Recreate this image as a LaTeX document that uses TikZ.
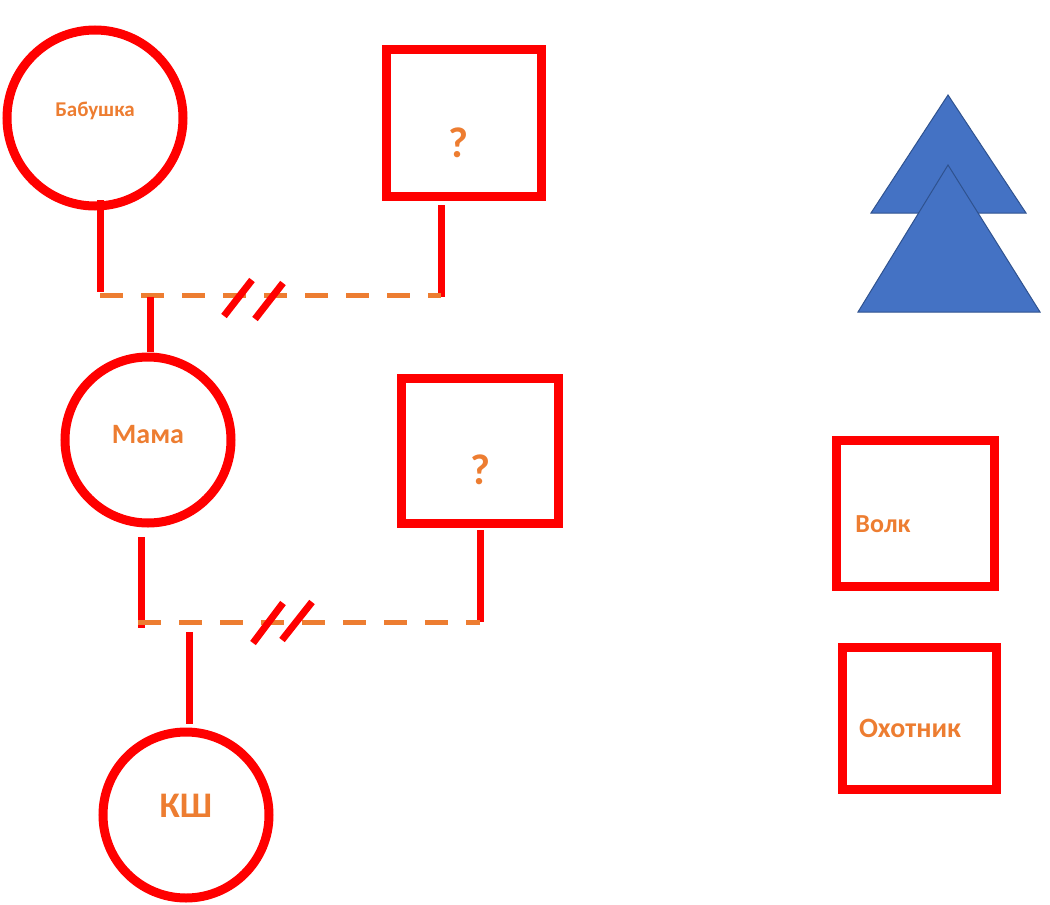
\documentclass[tikz,border=0pt]{standalone}
\usepackage{fontspec}
\setmainfont{Carlito}
\usetikzlibrary{positioning}
\definecolor{pedred}{HTML}{FF0000}
\definecolor{pedorange}{HTML}{ED7D31}
\definecolor{triblue}{HTML}{4472C4}
\definecolor{triedge}{HTML}{2F528F}
\tikzset{
	defaultstyle/.style={
		x=1pt,
		y=-1pt,
		line cap=butt}}
\newcommand{\fsz}[1]{\fontsize{#1}{#1}\selectfont}

\begin{document}
\begin{tikzpicture}[defaultstyle,
	female/.style={circle, draw=pedred, line width=9pt, inner sep=0pt},
	male/.style={rectangle, draw=pedred, line width=9pt, inner sep=0pt},
	lbl/.style={text=pedorange, inner sep=0pt},
	stub/.style={draw=pedred, line width=7pt},
	marriage/.style={draw=pedorange, line width=5pt, dash pattern=on 23pt off 18pt},
	divorce/.style={draw=pedred, line width=7pt},
	]
	\useasboundingbox (0,0) rectangle (1050,905);
	
	% people
	\node[female, minimum size=176pt] (gm) at (95,118) {};
	\node[lbl, font=\bfseries\fsz{21}] (tgm) at (95,111) {Бабушка};
	\node[male, minimum width=155pt, minimum height=147pt] (gf) at (463.5,122.5) {};
	\node[lbl, font=\bfseries\fsz{43}] (tgf) at (458,143) {?};
	
	\node[female, minimum size=166pt] (mom) at (148,440) {};
	\node[lbl, font=\bfseries\fsz{28}] (tmom) at (148,435) {Мама};
	\node[male, minimum width=157pt, minimum height=145pt] (dad) at (479.5,450.5) {};
	\node[lbl, font=\bfseries\fsz{43}] (tdad) at (480,470) {?};
	
	\node[female, minimum size=166pt] (ks) at (186,815) {};
	\node[lbl, font=\bfseries\fsz{36}] (tks) at (186,806) {КШ};
	
	\node[male, minimum width=158pt, minimum height=146pt] (wolf) at (915,513) {};
	\node[lbl, font=\bfseries\fsz{26}] (twolf) at (883,524) {Волк};
	\node[male, minimum width=154pt, minimum height=142pt] (hunt) at (919,718) {};
	\node[lbl, font=\bfseries\fsz{28}] (thunt) at (910,728) {Охотник};
	
	% trees
	\filldraw[fill=triblue, draw=triedge, line width=1pt] (948,95) -- (1026,213) -- (871,213) -- cycle;
	\filldraw[fill=triblue, draw=triedge, line width=1pt] (948,165) -- (1040,312) -- (858,312) -- cycle;
	
	% first couple
	\coordinate (gmtop) at (100,200);
	\coordinate (gmjoin) at (100,292);
	\coordinate (gftop) at (441,205);
	\coordinate (gfjoin) at (441,297);
	\coordinate (m1l) at (100,295);
	\coordinate (m1r) at (441,295);
	\coordinate (c1top) at (150,297);
	\coordinate (c1bot) at (150,352);
	\draw[stub] (gmtop) -- (gmjoin);
	\draw[stub] (gftop) -- (gfjoin);
	\draw[marriage] (m1l) -- (m1r);
	\draw[stub] (c1top) -- (c1bot);
	\coordinate (d1a) at (238,298);
	\coordinate (d1b) at (269,301);
	\draw[divorce] ([shift={(-14,18)}]d1a) -- ([shift={(14,-18)}]d1a);
	\draw[divorce] ([shift={(-14,18)}]d1b) -- ([shift={(14,-18)}]d1b);
	
	% second couple
	\coordinate (momtop) at (141,537);
	\coordinate (momjoin) at (141,628);
	\coordinate (dadtop) at (480,530);
	\coordinate (dadjoin) at (480,622);
	\coordinate (m2l) at (138,622);
	\coordinate (m2r) at (480,622);
	\coordinate (c2top) at (189,632);
	\coordinate (c2bot) at (189,724);
	\draw[stub] (momtop) -- (momjoin);
	\draw[stub] (dadtop) -- (dadjoin);
	\draw[marriage] (m2l) -- (m2r);
	\draw[stub] (c2top) -- (c2bot);
	\coordinate (d2a) at (268,623);
	\coordinate (d2b) at (297,621);
	\draw[divorce] ([shift={(-15,20)}]d2a) -- ([shift={(15,-20)}]d2a);
	\draw[divorce] ([shift={(-15,19)}]d2b) -- ([shift={(15,-19)}]d2b);
	
\end{tikzpicture}
\end{document}
